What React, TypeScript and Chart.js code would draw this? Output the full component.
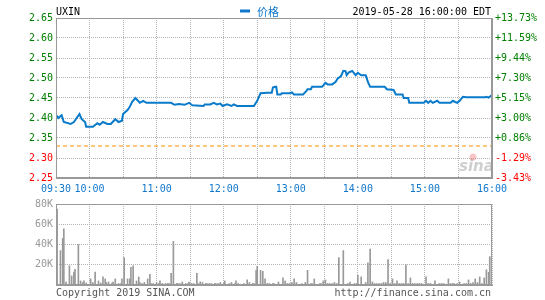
import React, { useEffect, useRef } from 'react';
import { Chart, registerables } from 'chart.js';
Chart.register(...registerables);

const symbol = 'UXIN';
const seriesName = '价格';
const stamp = '2019-05-28 16:00:00 EDT';
const copyrightText = 'Copyright 2019 SINA.COM';
const siteText = 'http://finance.sina.com.cn';
const prevClose = 2.33;
const priceMin = 2.25;
const priceMax = 2.65;
const priceStep = 0.05;
const volMax = 80000;
const volStep = 20000;
const timeTicks = ['09:30', '10:00', '11:00', '12:00', '13:00', '14:00', '15:00', '16:00'];

const priceTimes = [
  '09:30', '09:32', '09:35', '09:37', '09:43', '09:46', '09:51', '09:53', '09:56', '09:57',
  '10:03', '10:07', '10:09', '10:12', '10:16', '10:19', '10:23', '10:26', '10:29', '10:30',
  '10:34', '10:36', '10:38', '10:41', '10:45', '10:48', '10:51', '11:13', '11:16', '11:20',
  '11:25', '11:29', '11:32', '11:42', '11:43', '11:48', '11:51', '11:54', '11:57', '11:59',
  '12:03', '12:07', '12:09', '12:12', '12:27', '12:30', '12:33', '12:39', '12:43', '12:44',
  '12:46', '12:47', '12:48', '12:51', '12:52', '12:59', '13:01', '13:03', '13:11', '13:14',
  '13:15', '13:18', '13:19', '13:28', '13:31', '13:33', '13:37', '13:40', '13:42', '13:45',
  '13:47', '13:49', '13:50', '13:52', '13:55', '13:58', '14:00', '14:03', '14:07', '14:08',
  '14:09', '14:11', '14:24', '14:26', '14:32', '14:34', '14:40', '14:41', '14:45', '14:46',
  '14:59', '15:01', '15:03', '15:05', '15:07', '15:11', '15:13', '15:23', '15:25', '15:27',
  '15:29', '15:31', '15:34', '15:37', '15:54', '15:55', '15:57', '16:00',
];
const prices = [
  2.408, 2.400, 2.407, 2.390, 2.385, 2.390, 2.410, 2.397, 2.390, 2.378,
  2.378, 2.387, 2.383, 2.390, 2.385, 2.385, 2.397, 2.390, 2.393, 2.410,
  2.420, 2.428, 2.440, 2.450, 2.438, 2.443, 2.438, 2.438, 2.433, 2.435,
  2.433, 2.438, 2.432, 2.430, 2.434, 2.434, 2.438, 2.434, 2.436, 2.430,
  2.434, 2.430, 2.434, 2.430, 2.430, 2.443, 2.462, 2.463, 2.463, 2.476,
  2.478, 2.478, 2.459, 2.459, 2.462, 2.462, 2.464, 2.459, 2.459, 2.4675,
  2.472, 2.472, 2.478, 2.478, 2.488, 2.484, 2.484, 2.490, 2.499, 2.505,
  2.518, 2.517, 2.507, 2.514, 2.5175, 2.507, 2.513, 2.507, 2.507, 2.499,
  2.490, 2.478, 2.478, 2.472, 2.470, 2.459, 2.459, 2.450, 2.450, 2.438,
  2.438, 2.443, 2.438, 2.443, 2.438, 2.443, 2.438, 2.438, 2.443, 2.440,
  2.438, 2.443, 2.453, 2.452, 2.452, 2.453, 2.451, 2.4575,
];

const volTimes = [
  '09:31', '09:34', '09:36', '09:37', '09:39', '09:42', '09:44', '09:46', '09:47', '09:50',
  '09:52', '09:54', '09:55', '09:57', '10:01', '10:03', '10:05', '10:08', '10:10', '10:12',
  '10:14', '10:15', '10:17', '10:20', '10:21', '10:23', '10:26', '10:28', '10:29', '10:31',
  '10:34', '10:36', '10:37', '10:39', '10:42', '10:44', '10:45', '10:47', '10:49', '10:52',
  '10:54', '10:55', '10:57', '11:00', '11:02', '11:03', '11:05', '11:08', '11:10', '11:11',
  '11:13', '11:15', '11:18', '11:19', '11:21', '11:23', '11:26', '11:28', '11:29', '11:31',
  '11:33', '11:36', '11:37', '11:39', '11:41', '11:44', '11:45', '11:47', '11:49', '11:52',
  '11:53', '11:55', '11:57', '12:00', '12:01', '12:05', '12:07', '12:10', '12:11', '12:13',
  '12:18', '12:21', '12:23', '12:26', '12:27', '12:29', '12:30', '12:33', '12:35', '12:37',
  '12:39', '12:41', '12:44', '12:45', '12:49', '12:53', '12:55', '12:57', '12:59', '13:01',
  '13:03', '13:05', '13:10', '13:13', '13:15', '13:18', '13:19', '13:21', '13:26', '13:27',
  '13:29', '13:31', '13:33', '13:35', '13:37', '13:39', '13:41', '13:43', '13:47', '13:51',
  '13:53', '13:57', '13:59', '14:00', '14:03', '14:07', '14:09', '14:11', '14:13', '14:15',
  '14:17', '14:19', '14:21', '14:23', '14:25', '14:27', '14:29', '14:31', '14:33', '14:35',
  '14:37', '14:39', '14:41', '14:43', '14:45', '14:47', '14:49', '14:51', '14:53', '14:55',
  '14:57', '15:01', '15:03', '15:05', '15:09', '15:13', '15:15', '15:17', '15:21', '15:23',
  '15:25', '15:26', '15:29', '15:31', '15:35', '15:37', '15:39', '15:41', '15:43', '15:45',
  '15:47', '15:49', '15:51', '15:53', '15:55', '15:57', '15:58',
];
const volumes = [
  75000, 34000, 46000, 55500, 3000, 19000, 9000, 12700, 15500, 40000,
  4000, 2500, 4000, 2000, 6000, 2500, 12700, 4000, 2000, 8000,
  6000, 2500, 3000, 2000, 3000, 6000, 1500, 1500, 6000, 27000,
  6000, 6000, 17500, 19000, 4000, 8000, 2500, 1500, 2500, 6000,
  10500, 1500, 1500, 2500, 1500, 4000, 1500, 1500, 1500, 1500,
  11500, 43000, 1500, 1500, 1500, 3000, 1500, 1500, 3000, 1500,
  1500, 11500, 1500, 3000, 2500, 1500, 1500, 1500, 1500, 1500,
  1500, 1500, 2500, 1500, 4000, 1500, 2500, 1500, 4000, 1500,
  1500, 5000, 2500, 1500, 1500, 14500, 18500, 14500, 13500, 6000,
  1500, 1500, 1500, 1500, 3000, 7000, 4000, 1500, 1500, 2500,
  6000, 2500, 1500, 2500, 14500, 1500, 1500, 6000, 1500, 1500,
  4000, 5000, 1500, 1500, 1500, 2500, 1500, 27000, 34000, 1500,
  3000, 1500, 1500, 9500, 8000, 2500, 22000, 35500, 3000, 1500,
  1500, 1500, 1500, 2500, 2500, 25000, 1500, 6000, 1500, 4000,
  1500, 1500, 1500, 20000, 1500, 7000, 1500, 1500, 1500, 1500,
  1500, 8000, 1500, 1500, 4000, 1500, 1500, 1500, 6000, 1500,
  1500, 1500, 1500, 3000, 1500, 1500, 5000, 1500, 2500, 6000,
  2500, 8000, 1500, 7000, 15000, 12500, 28000,
];

const MONO = '"DejaVu Sans Mono", monospace';
const GREEN = '#008000';
const RED = '#ff0000';
const BLUE = '#1177cc';
const LINE_BLUE = '#0a7bca';
const FRAME = '#999999';
const GRID = '#b4b4b4';

const toMin = (t: string) => {
  const [h, m] = t.split(':').map(Number);
  return h * 60 + m - 570;
};
const minToLabel = (v: number) => {
  const total = v + 570;
  const h = Math.floor(total / 60);
  const m = total % 60;
  return `${String(h).padStart(2, '0')}:${String(m).padStart(2, '0')}`;
};
const xCallback = (v: any) => {
  const lbl = minToLabel(Number(v));
  return timeTicks.includes(lbl) ? lbl : '';
};

const framePlugin = {
  id: 'frame',
  afterDraw(chart: any) {
    const { ctx, chartArea: a } = chart;
    ctx.save();
    ctx.strokeStyle = FRAME;
    ctx.lineWidth = 1;
    ctx.strokeRect(Math.round(a.left) + 0.5, Math.round(a.top) + 0.5, Math.round(a.right - a.left) - 1, Math.round(a.bottom - a.top) - 1);
    ctx.restore();
  },
};

const topTextPlugin = {
  id: 'topText',
  beforeDatasetsDraw(chart: any) {
    const { ctx } = chart;
    ctx.save();
    // watermark
    ctx.font = 'italic bold 15px "DejaVu Sans"';
    ctx.fillStyle = 'rgba(160,160,160,0.5)';
    ctx.textBaseline = 'alphabetic';
    ctx.textAlign = 'left';
    ctx.fillText('sina', 459, 171);
    ctx.fillStyle = 'rgba(235,110,110,0.4)';
    ctx.beginPath();
    ctx.arc(473, 157, 3.5, 0, Math.PI * 2);
    ctx.fill();
    ctx.restore();
  },
  afterDraw(chart: any) {
    const { ctx } = chart;
    ctx.save();
    ctx.textBaseline = 'middle';
    ctx.font = `10px ${MONO}`;
    ctx.fillStyle = '#000';
    ctx.textAlign = 'left';
    ctx.fillText(symbol, 56, 12);
    ctx.textAlign = 'right';
    ctx.fillText(stamp, 491, 12);
    ctx.fillStyle = BLUE;
    ctx.fillRect(240, 9.5, 10, 3);
    ctx.textAlign = 'left';
    ctx.font = '11px "Noto Sans CJK SC"';
    ctx.fillText(seriesName, 257, 11.5);
    ctx.restore();
  },
};

const bottomTextPlugin = {
  id: 'bottomText',
  afterDraw(chart: any) {
    const { ctx } = chart;
    ctx.save();
    ctx.textBaseline = 'middle';
    ctx.font = `10px ${MONO}`;
    ctx.fillStyle = '#555';
    ctx.textAlign = 'left';
    ctx.fillText(copyrightText, 56, 98);
    ctx.textAlign = 'right';
    ctx.fillText(siteText, 491, 98);
    ctx.restore();
  },
};

export default function App() {
  const priceRef = useRef<HTMLCanvasElement>(null);
  const volRef = useRef<HTMLCanvasElement>(null);

  useEffect(() => {
    const priceData = priceTimes.map((t, i) => ({ x: toMin(t), y: prices[i] }));
    const prevData = [
      { x: toMin(timeTicks[0]), y: prevClose },
      { x: toMin(timeTicks[timeTicks.length - 1]), y: prevClose },
    ];
    const volData = volTimes.map((t, i) => ({ x: toMin(t), y: volumes[i] }));
    const xMin = toMin(timeTicks[0]);
    const xMax = toMin(timeTicks[timeTicks.length - 1]);

    const c1 = new Chart(priceRef.current!, {
      type: 'line',
      data: {
        datasets: [
          { data: prevData, borderColor: '#ff8c00', borderWidth: 1, borderDash: [4, 3], pointRadius: 0, order: 2 } as any,
          { data: priceData, borderColor: LINE_BLUE, borderWidth: 2, pointRadius: 0, tension: 0, order: 1 } as any,
        ],
      },
      options: {
        animation: false,
        responsive: false,
        devicePixelRatio: 1,
        events: [],
        layout: { padding: { top: 18, left: 0, right: 0, bottom: 0 } },
        plugins: { legend: { display: false }, tooltip: { enabled: false } },
        scales: {
          x: {
            type: 'linear', min: xMin, max: xMax,
            afterFit: (s: any) => { s.height = 22; },
            grid: { color: GRID, drawTicks: false, lineWidth: 1 },
            border: { color: FRAME, width: 1, dash: [1, 1] },
            ticks: { stepSize: 30, autoSkip: false, maxRotation: 0, padding: 5, color: BLUE, font: { family: MONO, size: 10 }, callback: xCallback },
          },
          y: {
            position: 'left', min: priceMin, max: priceMax,
            afterFit: (s: any) => { s.width = 56; },
            grid: { color: GRID, drawTicks: false, lineWidth: 1 },
            border: { color: FRAME, width: 1, dash: [1, 1] },
            ticks: {
              stepSize: priceStep, padding: 3, font: { family: MONO, size: 10 },
              color: (c: any) => (c.tick && c.tick.value >= prevClose - 1e-9 ? GREEN : RED),
              callback: (v: any) => Number(v).toFixed(2),
            },
          },
          y2: {
            position: 'right', min: priceMin, max: priceMax,
            afterFit: (s: any) => { s.width = 53; },
            grid: { display: false, drawTicks: false },
            border: { color: FRAME, width: 1 },
            ticks: {
              stepSize: priceStep, padding: 3, font: { family: MONO, size: 10 },
              color: (c: any) => (c.tick && c.tick.value >= prevClose - 1e-9 ? GREEN : RED),
              callback: (v: any) => {
                const p = (Number(v) / prevClose - 1) * 100;
                return (p >= 0 ? '+' : '') + p.toFixed(2) + '%';
              },
            },
          },
        } as any,
      },
      plugins: [framePlugin, topTextPlugin],
    });

    const c2 = new Chart(volRef.current!, {
      type: 'bar',
      data: {
        datasets: [
          { data: volData, backgroundColor: '#999999', barThickness: 1, borderWidth: 0 } as any,
        ],
      },
      options: {
        animation: false,
        responsive: false,
        devicePixelRatio: 1,
        events: [],
        layout: { padding: { top: 7, left: 0, right: 53, bottom: 15 } },
        plugins: { legend: { display: false }, tooltip: { enabled: false } },
        scales: {
          x: {
            type: 'linear', min: xMin, max: xMax, offset: false,
            afterFit: (s: any) => { s.height = 0; },
            grid: { color: GRID, drawTicks: false, lineWidth: 1, offset: false },
            border: { color: FRAME, width: 1, dash: [1, 1] },
            ticks: { stepSize: 30, display: false, autoSkip: false },
          },
          y: {
            position: 'left', min: 0, max: volMax,
            afterFit: (s: any) => { s.width = 56; },
            grid: { color: GRID, drawTicks: false, lineWidth: 1 },
            border: { color: FRAME, width: 1, dash: [1, 1] },
            ticks: {
              stepSize: volStep, padding: 3, color: '#999999', font: { family: MONO, size: 10 },
              callback: (v: any) => (Number(v) === 0 ? '' : Number(v) / 1000 + 'K'),
            },
          },
        } as any,
      },
      plugins: [framePlugin, bottomTextPlugin],
    });

    return () => {
      c1.destroy();
      c2.destroy();
    };
  }, []);

  return (
    <div style={{ position: 'fixed', left: 0, top: 0, width: 545, height: 300, background: '#fff' }}>
      <canvas ref={priceRef} width={545} height={200} style={{ position: 'absolute', left: 0, top: 0, width: 545, height: 200 }} />
      <canvas ref={volRef} width={545} height={105} style={{ position: 'absolute', left: 0, top: 195, width: 545, height: 105 }} />
    </div>
  );
}
